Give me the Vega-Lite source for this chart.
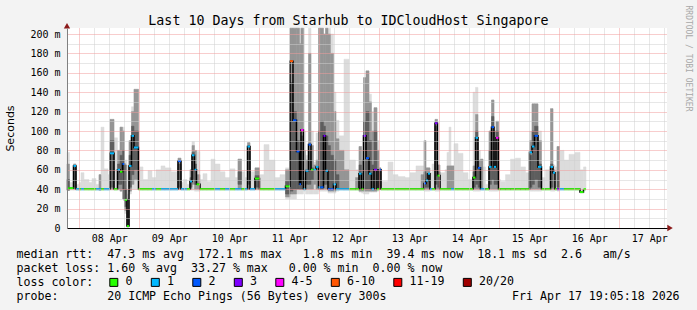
{
  "$schema": "https://vega.github.io/schema/vega-lite/v6.json",
  "width": 600,
  "height": 200,
  "autosize": {"type": "none"},
  "padding": {"left": 67, "top": 28, "right": 30, "bottom": 82},
  "background": "#f3f3f3",
  "config": {"view": {"fill": "#ffffff", "stroke": null}},
  "datasets": {
    "ping": [
      {"h":19.08,"h2":20.08,"med":41,"loss":"0","lo":39,"hi":78,"mlo":39,"mhi":66,"dlo":39,"dhi":50},
      {"h":20.08,"h2":21.68,"med":41,"loss":"0","lo":39,"hi":47},
      {"h":21.68,"h2":22.68,"med":64,"loss":"1","lo":39,"hi":66,"mlo":40,"mhi":66,"dlo":42,"dhi":62},
      {"h":22.68,"h2":23.88,"med":40,"loss":"1","lo":39,"hi":45},
      {"h":23.88,"h2":24.68,"med":40,"loss":"0","lo":39,"hi":47},
      {"h":24.68,"h2":25.88,"med":40,"loss":"1","lo":39,"hi":57},
      {"h":25.88,"h2":27.88,"med":40,"loss":"0","lo":39,"hi":50},
      {"h":27.88,"h2":29.08,"med":40,"loss":"0","lo":39,"hi":47},
      {"h":29.08,"h2":30.68,"med":40,"loss":"0","lo":39,"hi":51},
      {"h":30.68,"h2":31.88,"med":40,"loss":"1","lo":39,"hi":45},
      {"h":31.88,"h2":32.68,"med":40,"loss":"1","lo":39,"hi":55,"mlo":39,"mhi":55},
      {"h":32.68,"h2":33.88,"med":40,"loss":"0","lo":39,"hi":104},
      {"h":33.88,"h2":35.48,"med":40,"loss":"1","lo":39,"hi":61},
      {"h":35.48,"h2":36.28,"med":40,"loss":"1","lo":39,"hi":55},
      {"h":36.28,"h2":37.88,"med":77,"loss":"1","lo":39,"hi":112,"mlo":40,"mhi":112,"dlo":42,"dhi":90},
      {"h":37.88,"h2":39.28,"med":40,"loss":"0","lo":39,"hi":93},
      {"h":39.28,"h2":40.28,"med":60,"loss":"1","lo":39,"hi":80,"mlo":40,"mhi":80,"dlo":45,"dhi":66},
      {"h":40.28,"h2":41.28,"med":58,"loss":"0","lo":38,"hi":104,"mlo":38,"mhi":104,"dlo":45,"dhi":75},
      {"h":41.28,"h2":42.08,"med":66,"loss":"2","lo":30,"hi":104,"mlo":30,"mhi":100,"dlo":40,"dhi":80},
      {"h":42.08,"h2":43.08,"med":29,"loss":"0","lo":15,"hi":70,"mlo":18,"mhi":65,"dlo":22,"dhi":40},
      {"h":43.08,"h2":43.88,"med":2,"loss":"0","lo":0,"hi":35,"mlo":2,"mhi":30,"dlo":2,"dhi":18},
      {"h":43.88,"h2":44.88,"med":64,"loss":"1","lo":35,"hi":90,"mlo":38,"mhi":90,"dlo":42,"dhi":75},
      {"h":44.88,"h2":45.88,"med":95,"loss":"1","lo":40,"hi":125,"mlo":45,"mhi":120,"dlo":55,"dhi":105},
      {"h":45.88,"h2":47.68,"med":83,"loss":"1","lo":40,"hi":143,"mlo":50,"mhi":143,"dlo":60,"dhi":100},
      {"h":47.68,"h2":49.48,"med":40,"loss":"0","lo":39,"hi":63},
      {"h":49.48,"h2":51.48,"med":40,"loss":"0","lo":39,"hi":50},
      {"h":51.48,"h2":53.08,"med":40,"loss":"0","lo":39,"hi":59},
      {"h":53.08,"h2":54.68,"med":40,"loss":"1","lo":39,"hi":52},
      {"h":54.68,"h2":56.68,"med":40,"loss":"0","lo":39,"hi":60},
      {"h":56.68,"h2":58.28,"med":40,"loss":"1","lo":39,"hi":64},
      {"h":58.28,"h2":60.68,"med":40,"loss":"1","lo":39,"hi":62},
      {"h":60.68,"h2":63.48,"med":40,"loss":"1","lo":39,"hi":58},
      {"h":63.48,"h2":64.68,"med":69,"loss":"2","lo":39,"hi":72,"mlo":40,"mhi":72,"dlo":42,"dhi":66},
      {"h":64.68,"h2":65.68,"med":40,"loss":"1","lo":39,"hi":47},
      {"h":65.68,"h2":67.08,"med":40,"loss":"1","lo":39,"hi":50},
      {"h":67.08,"h2":68.28,"med":40,"loss":"0","lo":39,"hi":45},
      {"h":68.28,"h2":69.08,"med":48,"loss":"1","lo":39,"hi":60,"mlo":40,"mhi":60,"dlo":42,"dhi":52},
      {"h":69.08,"h2":70.08,"med":75,"loss":"1","lo":39,"hi":89,"mlo":45,"mhi":85,"dlo":50,"dhi":78},
      {"h":70.08,"h2":70.88,"med":60,"loss":"1","lo":38,"hi":80,"mlo":40,"mhi":80,"dlo":45,"dhi":66},
      {"h":70.88,"h2":72.28,"med":45,"loss":"0","lo":38,"hi":79,"mlo":40,"mhi":55},
      {"h":72.28,"h2":73.48,"med":40,"loss":"0","lo":39,"hi":50},
      {"h":73.48,"h2":75.08,"med":40,"loss":"0","lo":39,"hi":56},
      {"h":75.08,"h2":76.68,"med":40,"loss":"0","lo":39,"hi":48},
      {"h":76.68,"h2":78.28,"med":40,"loss":"0","lo":39,"hi":71},
      {"h":78.28,"h2":80.28,"med":40,"loss":"1","lo":39,"hi":66},
      {"h":80.28,"h2":82.28,"med":40,"loss":"0","lo":39,"hi":58},
      {"h":82.28,"h2":84.28,"med":40,"loss":"1","lo":39,"hi":52},
      {"h":84.28,"h2":86.28,"med":40,"loss":"0","lo":39,"hi":61},
      {"h":86.28,"h2":87.48,"med":40,"loss":"1","lo":39,"hi":52},
      {"h":87.48,"h2":88.88,"med":40,"loss":"1","lo":39,"hi":71,"mlo":40,"mhi":71,"dlo":45,"dhi":58},
      {"h":88.88,"h2":90.28,"med":40,"loss":"0","lo":39,"hi":58},
      {"h":90.28,"h2":91.28,"med":40,"loss":"1","lo":39,"hi":52},
      {"h":91.28,"h2":92.28,"med":84,"loss":"1","lo":39,"hi":88,"mlo":40,"mhi":88,"dlo":45,"dhi":80},
      {"h":92.28,"h2":94.28,"med":40,"loss":"1","lo":39,"hi":58},
      {"h":94.28,"h2":96.08,"med":51,"loss":"0","lo":39,"hi":62,"mlo":40,"mhi":62,"dlo":42,"dhi":54},
      {"h":96.08,"h2":97.88,"med":40,"loss":"0","lo":39,"hi":55},
      {"h":97.88,"h2":99.88,"med":40,"loss":"0","lo":39,"hi":86},
      {"h":99.88,"h2":102.28,"med":40,"loss":"0","lo":39,"hi":70},
      {"h":102.28,"h2":104.28,"med":40,"loss":"1","lo":39,"hi":52},
      {"h":104.28,"h2":106.48,"med":40,"loss":"1","lo":39,"hi":55},
      {"h":106.48,"h2":108.28,"med":43,"loss":"0","lo":30,"hi":62,"mlo":32,"mhi":60,"dlo":35,"dhi":48},
      {"h":108.28,"h2":109.48,"med":172,"loss":"6-10","lo":30,"hi":206,"mlo":35,"mhi":206,"dlo":38,"dhi":150},
      {"h":109.48,"h2":110.88,"med":111,"loss":"2","lo":30,"hi":206,"mlo":35,"mhi":206,"dlo":40,"dhi":120},
      {"h":110.88,"h2":112.08,"med":79,"loss":"2","lo":35,"hi":206,"mlo":40,"mhi":206,"dlo":40,"dhi":90},
      {"h":112.08,"h2":112.68,"med":45,"loss":"2","lo":35,"hi":206,"mlo":40,"mhi":190,"dlo":40,"dhi":75},
      {"h":112.68,"h2":113.68,"med":101,"loss":"4-5","lo":35,"hi":206,"mlo":40,"mhi":206,"dlo":40,"dhi":95},
      {"h":113.68,"h2":114.48,"med":40,"loss":"1","lo":38,"hi":100,"mlo":40,"mhi":80,"dlo":40,"dhi":52},
      {"h":114.48,"h2":115.68,"med":59,"loss":"1","lo":35,"hi":75,"mlo":40,"mhi":70,"dlo":45,"dhi":60},
      {"h":115.68,"h2":116.68,"med":86,"loss":"2","lo":35,"hi":206,"mlo":40,"mhi":180,"dlo":45,"dhi":80},
      {"h":116.68,"h2":117.68,"med":60,"loss":"0","lo":35,"hi":100,"mlo":40,"mhi":85,"dlo":50,"dhi":62},
      {"h":117.68,"h2":118.68,"med":60,"loss":"1","lo":35,"hi":68,"mlo":45,"mhi":65},
      {"h":118.68,"h2":119.68,"med":63,"loss":"1","lo":35,"hi":98,"mlo":40,"mhi":70},
      {"h":119.68,"h2":120.48,"med":42,"loss":"1","lo":38,"hi":206,"mlo":40,"mhi":206,"dlo":40,"dhi":100},
      {"h":120.48,"h2":121.68,"med":42,"loss":"2","lo":38,"hi":206,"mlo":40,"mhi":206,"dlo":40,"dhi":110},
      {"h":121.68,"h2":122.48,"med":95,"loss":"3","lo":38,"hi":200,"mlo":40,"mhi":200,"dlo":45,"dhi":105},
      {"h":122.48,"h2":123.48,"med":59,"loss":"1","lo":38,"hi":206,"mlo":40,"mhi":206,"dlo":45,"dhi":95},
      {"h":123.48,"h2":124.48,"med":40,"loss":"2","lo":36,"hi":206,"mlo":38,"mhi":200,"dlo":40,"dhi":85},
      {"h":124.48,"h2":125.68,"med":40,"loss":"2","lo":36,"hi":200,"mlo":38,"mhi":180,"dlo":40,"dhi":75},
      {"h":125.68,"h2":126.68,"med":45,"loss":"1","lo":36,"hi":140,"mlo":38,"mhi":120,"dlo":40,"dhi":70},
      {"h":126.68,"h2":127.88,"med":40,"loss":"1","lo":38,"hi":111,"mlo":40,"mhi":92,"dlo":40,"dhi":55},
      {"h":127.88,"h2":129.88,"med":40,"loss":"1","lo":39,"hi":95,"mlo":40,"mhi":80},
      {"h":129.88,"h2":131.88,"med":40,"loss":"1","lo":39,"hi":174,"mlo":40,"mhi":60},
      {"h":131.88,"h2":134.48,"med":40,"loss":"0","lo":39,"hi":70},
      {"h":134.48,"h2":135.88,"med":40,"loss":"0","lo":39,"hi":60,"mlo":40,"mhi":52},
      {"h":135.88,"h2":136.88,"med":56,"loss":"1","lo":37,"hi":84,"mlo":38,"mhi":84,"dlo":40,"dhi":65},
      {"h":136.88,"h2":137.68,"med":40,"loss":"0","lo":36,"hi":80,"mlo":38,"mhi":70},
      {"h":137.68,"h2":138.68,"med":95,"loss":"3","lo":35,"hi":155,"mlo":38,"mhi":155,"dlo":40,"dhi":110},
      {"h":138.68,"h2":139.88,"med":72,"loss":"2","lo":35,"hi":162,"mlo":38,"mhi":162,"dlo":40,"dhi":120},
      {"h":139.88,"h2":140.88,"med":56,"loss":"1","lo":37,"hi":138,"mlo":38,"mhi":130,"dlo":40,"dhi":90},
      {"h":140.88,"h2":141.88,"med":40,"loss":"1","lo":37,"hi":120,"mlo":38,"mhi":100,"dlo":40,"dhi":65},
      {"h":141.88,"h2":143.08,"med":60,"loss":"3","lo":37,"hi":124,"mlo":38,"mhi":124,"dlo":40,"dhi":100},
      {"h":143.08,"h2":143.88,"med":40,"loss":"0","lo":38,"hi":90,"mlo":40,"mhi":80},
      {"h":143.88,"h2":144.68,"med":60,"loss":"2","lo":39,"hi":62,"mlo":40,"mhi":62,"dlo":42,"dhi":58},
      {"h":144.68,"h2":147.48,"med":40,"loss":"0","lo":39,"hi":48},
      {"h":147.48,"h2":149.48,"med":40,"loss":"0","lo":39,"hi":68},
      {"h":149.48,"h2":151.48,"med":40,"loss":"0","lo":39,"hi":55},
      {"h":151.48,"h2":154.28,"med":40,"loss":"0","lo":39,"hi":53},
      {"h":154.28,"h2":156.28,"med":40,"loss":"0","lo":39,"hi":52},
      {"h":156.28,"h2":158.68,"med":40,"loss":"0","lo":39,"hi":57},
      {"h":158.68,"h2":160.68,"med":40,"loss":"0","lo":39,"hi":64},
      {"h":160.68,"h2":161.88,"med":40,"loss":"0","lo":39,"hi":64,"mlo":40,"mhi":55},
      {"h":161.88,"h2":162.68,"med":46,"loss":"2","lo":38,"hi":90,"mlo":40,"mhi":90,"dlo":42,"dhi":58},
      {"h":162.68,"h2":163.48,"med":49,"loss":"1","lo":38,"hi":62,"mlo":40,"mhi":62,"dlo":42,"dhi":56},
      {"h":163.48,"h2":164.28,"med":56,"loss":"1","lo":38,"hi":62,"mlo":40,"mhi":62,"dlo":42,"dhi":56},
      {"h":164.28,"h2":165.08,"med":40,"loss":"1","lo":39,"hi":57},
      {"h":165.08,"h2":166.28,"med":40,"loss":"0","lo":39,"hi":66},
      {"h":166.28,"h2":167.28,"med":108,"loss":"3","lo":38,"hi":112,"mlo":40,"mhi":112,"dlo":45,"dhi":105},
      {"h":167.28,"h2":168.28,"med":54,"loss":"0","lo":38,"hi":65,"mlo":40,"mhi":65,"dlo":42,"dhi":58},
      {"h":168.28,"h2":170.28,"med":40,"loss":"0","lo":39,"hi":57},
      {"h":170.28,"h2":171.08,"med":40,"loss":"0","lo":39,"hi":60},
      {"h":171.08,"h2":171.88,"med":40,"loss":"0","lo":39,"hi":78,"mlo":40,"mhi":64},
      {"h":171.88,"h2":172.68,"med":40,"loss":"0","lo":39,"hi":104,"mlo":40,"mhi":64},
      {"h":172.68,"h2":173.88,"med":40,"loss":"1","lo":39,"hi":64,"mlo":40,"mhi":64},
      {"h":173.88,"h2":175.48,"med":40,"loss":"0","lo":39,"hi":87},
      {"h":175.48,"h2":177.48,"med":40,"loss":"0","lo":39,"hi":77},
      {"h":177.48,"h2":179.48,"med":40,"loss":"0","lo":39,"hi":57},
      {"h":179.48,"h2":181.48,"med":40,"loss":"0","lo":39,"hi":50},
      {"h":181.48,"h2":182.48,"med":52,"loss":"0","lo":38,"hi":140,"mlo":40,"mhi":64,"dlo":42,"dhi":58},
      {"h":182.48,"h2":183.48,"med":93,"loss":"1","lo":38,"hi":145,"mlo":40,"mhi":117,"dlo":45,"dhi":100},
      {"h":183.48,"h2":184.48,"med":62,"loss":"2","lo":38,"hi":80,"mlo":40,"mhi":70,"dlo":42,"dhi":62},
      {"h":184.48,"h2":185.48,"med":40,"loss":"1","lo":39,"hi":71,"mlo":40,"mhi":71},
      {"h":185.48,"h2":186.48,"med":40,"loss":"1","lo":39,"hi":63},
      {"h":186.48,"h2":187.88,"med":40,"loss":"0","lo":39,"hi":45},
      {"h":187.88,"h2":188.88,"med":63,"loss":"1","lo":38,"hi":100,"mlo":40,"mhi":100,"dlo":45,"dhi":80},
      {"h":188.88,"h2":189.88,"med":104,"loss":"2","lo":38,"hi":132,"mlo":40,"mhi":132,"dlo":50,"dhi":115},
      {"h":189.88,"h2":190.68,"med":63,"loss":"1","lo":38,"hi":100,"mlo":40,"mhi":100,"dlo":45,"dhi":80},
      {"h":190.68,"h2":191.68,"med":93,"loss":"4-5","lo":38,"hi":110,"mlo":40,"mhi":110,"dlo":45,"dhi":100},
      {"h":191.68,"h2":192.48,"med":40,"loss":"0","lo":39,"hi":50},
      {"h":192.48,"h2":194.48,"med":40,"loss":"0","lo":39,"hi":48},
      {"h":194.48,"h2":196.48,"med":40,"loss":"0","lo":39,"hi":55},
      {"h":196.48,"h2":198.48,"med":40,"loss":"0","lo":39,"hi":71},
      {"h":198.48,"h2":200.48,"med":40,"loss":"0","lo":39,"hi":72},
      {"h":200.48,"h2":202.48,"med":40,"loss":"0","lo":39,"hi":63},
      {"h":202.48,"h2":204.08,"med":40,"loss":"0","lo":39,"hi":57},
      {"h":204.08,"h2":205.08,"med":78,"loss":"1","lo":38,"hi":100,"mlo":40,"mhi":90,"dlo":42,"dhi":75},
      {"h":205.08,"h2":206.08,"med":84,"loss":"1","lo":38,"hi":128,"mlo":40,"mhi":128,"dlo":45,"dhi":100},
      {"h":206.08,"h2":207.48,"med":95,"loss":"2","lo":38,"hi":128,"mlo":40,"mhi":128,"dlo":50,"dhi":105},
      {"h":207.48,"h2":208.88,"med":63,"loss":"1","lo":38,"hi":100,"mlo":40,"mhi":90,"dlo":42,"dhi":66},
      {"h":208.88,"h2":210.48,"med":40,"loss":"0","lo":39,"hi":52},
      {"h":210.48,"h2":212.48,"med":40,"loss":"0","lo":39,"hi":60},
      {"h":212.48,"h2":213.48,"med":63,"loss":"1","lo":38,"hi":123,"mlo":40,"mhi":123,"dlo":42,"dhi":66},
      {"h":213.48,"h2":214.28,"med":57,"loss":"1","lo":38,"hi":65,"mlo":40,"mhi":60},
      {"h":214.28,"h2":215.08,"med":40,"loss":"0","lo":39,"hi":63},
      {"h":215.08,"h2":216.08,"med":40,"loss":"3","lo":38,"hi":84,"mlo":40,"mhi":84,"dlo":42,"dhi":58},
      {"h":216.08,"h2":217.88,"med":40,"loss":"1","lo":39,"hi":80},
      {"h":217.88,"h2":219.88,"med":40,"loss":"0","lo":39,"hi":70},
      {"h":219.88,"h2":222.28,"med":40,"loss":"0","lo":39,"hi":76},
      {"h":222.28,"h2":224.28,"med":40,"loss":"0","lo":39,"hi":78},
      {"h":224.28,"h2":225.68,"med":37,"loss":"0","lo":36,"hi":60},
      {"h":225.68,"h2":226.68,"med":40,"loss":"0","lo":39,"hi":63}
    ],
    "arrows": [
      {"h": 260.3, "v": 0, "shape": "triangle-right"},
      {"h": 19.08, "v": 208.6, "shape": "triangle-up"}
    ]
  },
  "data": {"name": "ping"},
  "resolve": {"axis": {"x": "independent", "y": "independent"}},
  "layer": [
    {
      "mark": {"type": "rect", "color": "#dcdcdc", "stroke": "#dcdcdc", "strokeWidth": 0.5},
      "encoding": {
        "x": {
          "field": "h", "type": "quantitative",
          "scale": {"domain": [19.083, 259.083], "nice": false, "zero": false},
          "axis": {
            "orient": "bottom",
            "values": [24,30,36,42,48,54,60,66,72,78,84,90,96,102,108,114,120,126,132,138,144,150,156,162,168,174,180,186,192,198,204,210,216,222,228,234,240,246,252,258],
            "labelExpr": "datum.value % 24 == 12 ? ((floor(datum.value / 24) + 7 < 10 ? '0' : '') + (floor(datum.value / 24) + 7) + ' Apr') : ''",
            "grid": true,
            "gridColor": {"condition": {"test": "datum.value % 24 == 0", "value": "#f09a9a"}, "value": "#cfcfcf"},
            "gridDash": [1, 1],
            "ticks": false,
            "tickSize": 0,
            "domain": true,
            "domainColor": "#000000",
            "labelFont": "DejaVu Sans Mono",
            "labelFontSize": 10,
            "labelColor": "#000000",
            "labelPadding": 5.5,
            "labelFlush": false,
            "labelOverlap": false,
            "zindex": 1,
            "title": [
              "median\u00a0rtt:\u00a0\u00a047.3\u00a0ms\u00a0avg\u00a0\u00a0172.1\u00a0ms\u00a0max\u00a0\u00a0\u00a01.8\u00a0ms\u00a0min\u00a0\u00a039.4\u00a0ms\u00a0now\u00a0\u00a018.1\u00a0ms\u00a0sd\u00a0\u00a02.6\u00a0\u00a0\u00a0am/s",
              "packet\u00a0loss:\u00a01.60\u00a0%\u00a0avg\u00a0\u00a033.27\u00a0%\u00a0max\u00a0\u00a0\u00a00.00\u00a0%\u00a0min\u00a0\u00a00.00\u00a0%\u00a0now",
              "loss\u00a0color:",
              "probe:\u00a0\u00a0\u00a0\u00a0\u00a0\u00a0\u00a020\u00a0ICMP\u00a0Echo\u00a0Pings\u00a0(56\u00a0Bytes)\u00a0every\u00a0300s\u00a0\u00a0\u00a0\u00a0\u00a0\u00a0\u00a0\u00a0\u00a0\u00a0\u00a0\u00a0\u00a0\u00a0\u00a0\u00a0\u00a0\u00a0Fri\u00a0Apr\u00a017\u00a019:05:18\u00a02026"
            ],
            "titleFont": "DejaVu Sans Mono",
            "titleFontSize": 11.6,
            "titleFontWeight": "normal",
            "titleColor": "#000000",
            "titleAlign": "left",
            "titleAnchor": "start",
            "titleBaseline": "alphabetic",
            "titleLineHeight": 14,
            "titleX": -51,
            "titleY": 29.5
          }
        },
        "x2": {"field": "h2"},
        "y": {
          "field": "lo", "type": "quantitative",
          "scale": {"domain": [0, 206.2], "nice": false, "zero": false},
          "axis": {
            "orient": "left",
            "values": [0,10,20,30,40,50,60,70,80,90,100,110,120,130,140,150,160,170,180,190,200],
            "labelExpr": "datum.value % 20 == 0 ? (datum.value == 0 ? '0\u00a0\u00a0' : datum.value + '\u00a0m') : ''",
            "grid": true,
            "gridColor": {"condition": {"test": "datum.value % 20 == 0", "value": "#f09a9a"}, "value": "#cfcfcf"},
            "gridDash": [1, 1],
            "ticks": false,
            "tickSize": 0,
            "domain": true,
            "domainColor": "#808080",
            "labelFont": "DejaVu Sans Mono",
            "labelFontSize": 10,
            "labelColor": "#000000",
            "labelPadding": 7,
            "labelOverlap": false,
            "zindex": 1,
            "title": "Seconds",
            "titleFont": "DejaVu Sans",
            "titleFontSize": 11,
            "titleFontWeight": "normal",
            "titleColor": "#000000",
            "titleAngle": 270,
            "titleAlign": "center",
            "titleBaseline": "middle",
            "titleX": -57,
            "titleY": 100
          }
        },
        "y2": {"field": "hi"}
      }
    },
    {
      "mark": {"type": "rect", "color": "#959595", "stroke": "#959595", "strokeWidth": 0.5},
      "encoding": {
        "x": {"field": "h", "type": "quantitative", "scale": {"domain": [19.083, 259.083], "nice": false, "zero": false}, "axis": null},
        "x2": {"field": "h2"},
        "y": {"field": "mlo", "type": "quantitative", "scale": {"domain": [0, 206.2], "nice": false, "zero": false}, "axis": null},
        "y2": {"field": "mhi"}
      }
    },
    {
      "mark": {"type": "rect", "color": "#5e5e5e", "stroke": "#5e5e5e", "strokeWidth": 0.5},
      "encoding": {
        "x": {"field": "h", "type": "quantitative", "scale": {"domain": [19.083, 259.083], "nice": false, "zero": false}, "axis": null},
        "x2": {"field": "h2"},
        "y": {"field": "dlo", "type": "quantitative", "scale": {"domain": [0, 206.2], "nice": false, "zero": false}, "axis": null},
        "y2": {"field": "dhi"}
      }
    },
    {
      "mark": {"type": "line", "interpolate": "step-after", "color": "#000000", "strokeWidth": 1.5},
      "encoding": {
        "x": {"field": "h", "type": "quantitative", "scale": {"domain": [19.083, 259.083], "nice": false, "zero": false}, "axis": null},
        "y": {"field": "med", "type": "quantitative", "scale": {"domain": [0, 206.2], "nice": false, "zero": false}, "axis": null}
      }
    },
    {
      "mark": {"type": "rect", "yOffset": -1, "y2Offset": 1},
      "encoding": {
        "x": {"field": "h", "type": "quantitative", "scale": {"domain": [19.083, 259.083], "nice": false, "zero": false}, "axis": null},
        "x2": {"field": "h2"},
        "y": {"field": "med", "type": "quantitative", "scale": {"domain": [0, 206.2], "nice": false, "zero": false}, "axis": null},
        "y2": {"field": "med"},
        "fill": {
          "field": "loss", "type": "nominal",
          "scale": {
            "domain": ["0", "1", "2", "3", "4-5", "6-10", "11-19", "20/20"],
            "range": ["#26ff00", "#00b8ff", "#0059ff", "#7e00ff", "#ff00ff", "#ff5500", "#ff0000", "#a00000"]
          },
          "legend": {
            "orient": "none",
            "legendX": 41,
            "legendY": 248.5,
            "direction": "horizontal",
            "columns": 8,
            "title": null,
            "padding": 0,
            "symbolType": "square",
            "symbolSize": 64,
            "symbolStrokeColor": "#000000",
            "symbolStrokeWidth": 1,
            "symbolOpacity": 1,
            "labelFont": "DejaVu Sans Mono",
            "labelFontSize": 11.6,
            "labelColor": "#000000",
            "labelOffset": 6,
            "columnPadding": 15.5,
            "encode": {"symbols": {"update": {"stroke": {"value": "#000000"}, "strokeWidth": {"value": 1}}}}
          }
        }
      }
    },
    {
      "data": {"name": "arrows"},
      "mark": {"type": "point", "filled": true, "size": 40, "color": "#8b1a1a", "opacity": 1},
      "encoding": {
        "x": {
          "field": "h", "type": "quantitative",
          "scale": {"domain": [19.083, 259.083], "nice": false, "zero": false},
          "axis": {
            "orient": "top",
            "labels": false, "ticks": false, "domain": false, "grid": false,
            "title": "Last 10 Days from Starhub to IDCloudHost Singapore",
            "titleFont": "DejaVu Sans Mono",
            "titleFontSize": 13.3,
            "titleFontWeight": "normal",
            "titleColor": "#000000",
            "titleAlign": "center",
            "titleBaseline": "alphabetic",
            "titleX": 281,
            "titleY": -4
          }
        },
        "y": {
          "field": "v", "type": "quantitative",
          "scale": {"domain": [0, 206.2], "nice": false, "zero": false},
          "axis": {
            "orient": "right",
            "labels": false, "ticks": false, "domain": false, "grid": false,
            "title": "RRDTOOL / TOBI OETIKER",
            "titleFont": "DejaVu Sans Mono",
            "titleFontSize": 8,
            "titleFontWeight": "normal",
            "titleColor": "#a8a8a8",
            "titleAngle": 90,
            "titleAlign": "left",
            "titleBaseline": "middle",
            "titleX": 20,
            "titleY": -23
          }
        },
        "shape": {"field": "shape", "type": "nominal", "scale": null}
      }
    }
  ]
}
